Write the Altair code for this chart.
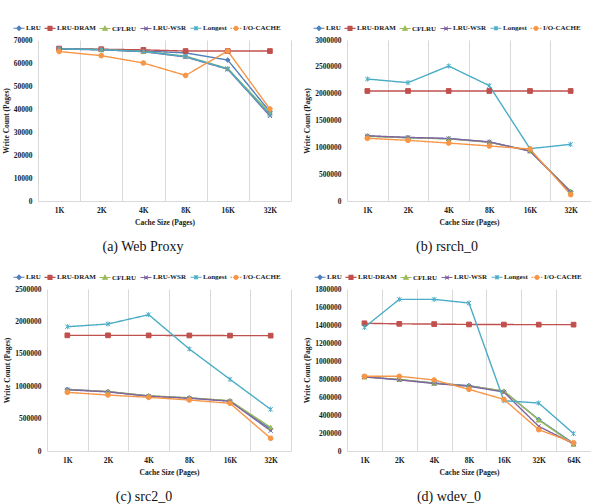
import altair as alt
import pandas as pd

FONT = "Liberation Serif, Times New Roman, serif"
INK = "#1a1a1a"
GRID = "#d9d9d9"

SERIES = ["LRU", "LRU-DRAM", "CFLRU", "LRU-WSR", "Longest", "I/O-CACHE"]
COLORS = ["#4F81BD", "#C0504D", "#9BBB59", "#8064A2", "#4BACC6", "#F79646"]

# Markers on the curves; custom paths are stroked, so the crosses show as lines.
MARKERS = [
    "diamond",
    "square",
    "triangle-up",
    "M-0.9,-0.9L0.9,0.9M-0.9,0.9L0.9,-0.9",
    "M-0.9,-0.9L0.9,0.9M-0.9,0.9L0.9,-0.9M0,-1.1L0,1.1",
    "circle",
]
# Legend keys: a short line with the series marker in its middle.
KEYS = [
    "M-1.1,0H1.1M0,-0.45L0.45,0L0,0.45L-0.45,0Z",
    "M-1.1,0H1.1M-0.4,-0.4H0.4V0.4H-0.4Z",
    "M-1.1,0H1.1M0,-0.45L0.45,0.36H-0.45Z",
    "M-1.1,0H1.1M-0.38,-0.38L0.38,0.38M-0.38,0.38L0.38,-0.38",
    "M-1.1,0H1.1M-0.38,-0.38L0.38,0.38M-0.38,0.38L0.38,-0.38M0,-0.45V0.45",
    "M-1.1,0H-0.8M-0.62,0H-0.34M0.34,0H0.62M0.8,0H1.1"
    "M0.4,0L0.28,0.28L0,0.4L-0.28,0.28L-0.4,0L-0.28,-0.28L0,-0.4L0.28,-0.28Z",
]

SIZES_32K = ["1K", "2K", "4K", "8K", "16K", "32K"]
SIZES_64K = ["1K", "2K", "4K", "8K", "16K", "32K", "64K"]

web_proxy = {
    "LRU":       [66000, 65800, 65200, 64400, 61300, 38800],
    "LRU-DRAM":  [66300, 66000, 65700, 65200, 65200, 65200],
    "CFLRU":     [66200, 65800, 65000, 63000, 57600, 38200],
    "LRU-WSR":   [66200, 65800, 64900, 62600, 57300, 37000],
    "Longest":   [66200, 65800, 65000, 62800, 57400, 37500],
    "I/O-CACHE": [65000, 63200, 60000, 54600, 65200, 40000],
}
rsrch_0 = {
    "LRU":       [1211000, 1180000, 1161000, 1099000, 932000, 174000],
    "LRU-DRAM":  [2050000, 2050000, 2050000, 2050000, 2050000, 2050000],
    "CFLRU":     [1205000, 1178000, 1158000, 1095000, 935000, 180000],
    "LRU-WSR":   [1215000, 1185000, 1165000, 1102000, 930000, 168000],
    "Longest":   [2273000, 2205000, 2515000, 2149000, 975000, 1056000],
    "I/O-CACHE": [1168000, 1130000, 1080000, 1025000, 969000, 118000],
}
src2_0 = {
    "LRU":       [952000, 916000, 849000, 818000, 772000, 340000],
    "LRU-DRAM":  [1785000, 1785000, 1784000, 1783000, 1781000, 1780000],
    "CFLRU":     [948000, 918000, 852000, 822000, 776000, 365000],
    "LRU-WSR":   [945000, 912000, 845000, 815000, 768000, 313000],
    "Longest":   [1918000, 1960000, 2104000, 1574000, 1106000, 643000],
    "I/O-CACHE": [905000, 864000, 828000, 787000, 736000, 196000],
}
wdev_0 = {
    "LRU":       [826000, 793000, 756000, 726000, 663000, 350000, 85000],
    "LRU-DRAM":  [1419000, 1413000, 1410000, 1406000, 1405000, 1404000, 1404000],
    "CFLRU":     [822000, 795000, 752000, 722000, 668000, 344000, 75000],
    "LRU-WSR":   [824000, 790000, 750000, 720000, 655000, 274000, 80000],
    "Longest":   [1374000, 1685000, 1685000, 1644000, 559000, 533000, 193000],
    "I/O-CACHE": [830000, 830000, 789000, 685000, 574000, 237000, 92000],
}

TICKS_A = [0, 10000, 20000, 30000, 40000, 50000, 60000, 70000]
TICKS_B = [0, 500000, 1000000, 1500000, 2000000, 2500000, 3000000]
TICKS_C = [0, 500000, 1000000, 1500000, 2000000, 2500000]
TICKS_D = [0, 200000, 400000, 600000, 800000, 1000000, 1200000, 1400000, 1600000, 1800000]


def panel(values, sizes, ticks, width, height, caption, caption_dx,
          legend_x, legend_y, io_dashed, inset=0):
    """One line chart; `inset` leaves an empty strip at the left of the view."""
    rows = [
        {"size": size, "series": name, "writes": v}
        for name in SERIES
        for size, v in zip(sizes, values[name])
    ]
    base = alt.Chart(pd.DataFrame(rows))

    x = alt.X(
        "size:N", sort=sizes, title="Cache Size (Pages)",
        scale=alt.Scale(type="band", domain=sizes, range=[inset, width],
                        paddingInner=0, paddingOuter=0),
        axis=alt.Axis(tickBand="extent", grid=True, ticks=False, tickSize=0, labelAngle=0,
                      titleX=inset + (width - inset) / 2),
    )
    y = alt.Y(
        "writes:Q", title="Write Count (Pages)",
        scale=alt.Scale(domain=[ticks[0], ticks[-1]], nice=False),
        axis=alt.Axis(values=ticks, format="d", grid=False, ticks=False,
                      tickSize=0, domain=False, offset=-inset),
    )
    color_scale = alt.Scale(domain=SERIES, range=COLORS)
    dashes = [[1, 0]] * 5 + [[3, 2] if io_dashed else [1, 0]]

    lines = base.mark_line(strokeWidth=1.4).encode(
        x=x, y=y,
        color=alt.Color("series:N", scale=color_scale, legend=None),
        strokeDash=alt.StrokeDash("series:N", scale=alt.Scale(domain=SERIES, range=dashes),
                                  legend=None),
    )
    points = base.mark_point(filled=True, size=22, strokeWidth=1, opacity=1).encode(
        x=x, y=y,
        fill=alt.Fill("series:N", scale=color_scale, legend=None),
        stroke=alt.Stroke("series:N", scale=color_scale, legend=None),
        shape=alt.Shape("series:N", scale=alt.Scale(domain=SERIES, range=MARKERS), legend=None),
    )

    legend = alt.Legend(
        title=None, orient="none", legendX=legend_x, legendY=legend_y,
        direction="horizontal", columns=6, columnPadding=1, gridAlign="each",
        symbolSize=100, symbolStrokeWidth=1.1, symbolOpacity=1, labelOffset=1,
        labelFont=FONT, labelFontSize=7.0, labelFontWeight="bold", labelColor=INK,
    )
    keys = base.mark_point(filled=True, opacity=0, size=1).encode(
        x=x, y=y,
        fill=alt.Fill("series:N", scale=color_scale, legend=legend),
        stroke=alt.Stroke("series:N", scale=color_scale, legend=legend),
        shape=alt.Shape("series:N", scale=alt.Scale(domain=SERIES, range=KEYS), legend=legend),
    )

    return (
        alt.layer(lines, points, keys)
        .resolve_scale(fill="independent", stroke="independent", shape="independent")
        .properties(
            width=width, height=height,
            title=alt.TitleParams(
                text=caption, orient="bottom", anchor="middle", frame="group",
                dx=caption_dx, offset=14, font=FONT, fontSize=14,
                fontWeight="normal", color="#111111",
            ),
        )
    )


a = panel(web_proxy, SIZES_32K, TICKS_A, 253, 161, "(a) Web Proxy", -21.5, -25, -18, False)
b = panel(rsrch_0, SIZES_32K, TICKS_B, 244, 161, "(b) rsrch_0", -22, -34, -18, True)
c = panel(src2_0, SIZES_32K, TICKS_C, 253, 162, "(c) src2_0", -20.5, -25, -18, True, inset=9)
d = panel(wdev_0, SIZES_64K, TICKS_D, 244, 162, "(d) wdev_0", -20, -33, -18, True)

chart = (
    alt.vconcat(
        alt.hconcat(a, b, spacing=12),
        alt.hconcat(c, d, spacing=12),
        spacing=17,
    )
    .properties(padding={"left": 2, "top": 22, "right": 0, "bottom": 0})
    .configure_view(stroke=None)
    .configure_axis(
        labelFont=FONT, titleFont=FONT, labelFontSize=7.5, titleFontSize=7.5,
        labelFontWeight="bold", titleFontWeight="bold",
        labelColor=INK, titleColor=INK,
    )
    .configure_axisX(domainColor=GRID, gridColor=GRID, labelPadding=5, titlePadding=5)
    .configure_axisY(labelPadding=6, titlePadding=3)
    .configure_title(font=FONT, fontSize=14, fontWeight="normal", color="#111111")
)

chart.save("out.html", embed_options={"renderer": "svg", "actions": False})
